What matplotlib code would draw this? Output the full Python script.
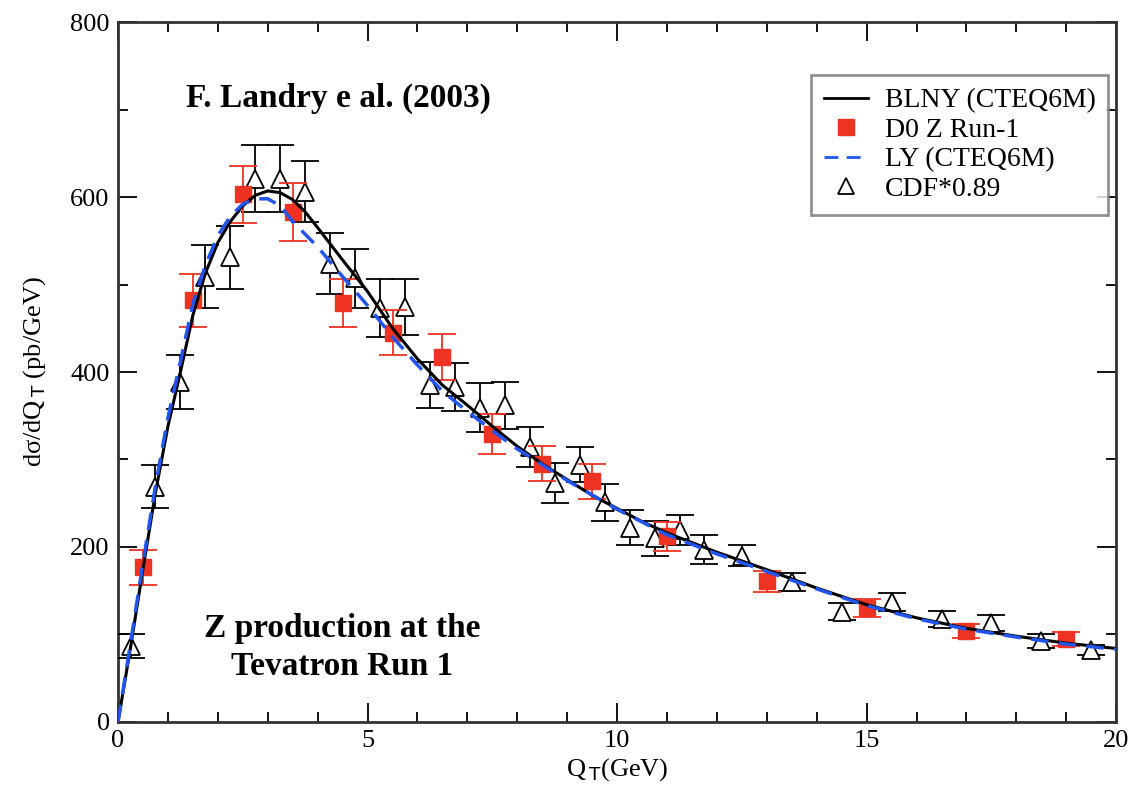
import numpy as np
import matplotlib
matplotlib.use("Agg")
import matplotlib.pyplot as plt
from matplotlib.ticker import MultipleLocator

# BLNY (CTEQ6M) curve
blny_x = [0, 0.25, 0.5, 0.75, 1.0, 1.25, 1.5, 1.75, 2.0, 2.25, 2.5, 2.75, 3.0, 3.25, 3.5, 3.75,
          4.0, 4.5, 5.0, 5.5, 6.0, 6.5, 7.0, 7.5, 8.0, 8.5, 9.0, 9.5, 10, 10.5, 11, 12, 13, 14,
          15, 16, 17, 18, 19, 20]
blny_y = [0, 85, 175, 262, 338, 400, 465, 513, 548, 572, 590, 602, 607, 605, 597, 583,
          565, 528, 492, 450, 415, 385, 362, 338, 315, 295, 277, 259, 244, 229, 216, 194, 174, 153,
          134, 119, 107, 98, 90, 84]

# LY (CTEQ6M) curve
ly_x = [0, 0.25, 0.5, 0.75, 1.0, 1.25, 1.5, 1.75, 2.0, 2.25, 2.5, 2.75, 3.0, 3.25, 3.5, 4.0,
        4.5, 5.0, 5.5, 6.0, 6.5, 7.0, 7.5, 8.0, 8.5, 9.0, 10, 11, 12, 13, 14, 15, 16, 17, 18,
        19, 20]
ly_y = [0, 90, 182, 270, 348, 412, 478, 522, 556, 578, 592, 598, 598, 590, 572, 543,
        509, 476, 440, 408, 378, 355, 333, 312, 294, 276, 243, 214, 192, 172, 152, 133, 118, 106, 97,
        89, 83]

# D0 Z Run-1
d0_x = [0.5, 1.5, 2.5, 3.5, 4.5, 5.5, 6.5, 7.5, 8.5, 9.5, 11, 13, 15, 17, 19]
d0_y = [177, 482, 603, 583, 479, 445, 417, 329, 295, 275, 212, 161, 130, 104, 95]
d0_err = [20, 30, 33, 33, 27, 26, 26, 23, 20, 20, 17, 12, 10, 8, 8]

# CDF * 0.89
cdf_x = [0.25, 0.75, 1.25, 1.75, 2.25, 2.75, 3.25, 3.75, 4.25, 4.75, 5.25, 5.75, 6.25, 6.75,
         7.25, 7.75, 8.25, 8.75, 9.25, 9.75, 10.25, 10.75, 11.25, 11.75, 12.5, 13.5, 14.5,
         15.5, 16.5, 17.5, 18.5, 19.5]
cdf_y = [87, 269, 389, 509, 531, 621, 621, 606, 524, 507, 473, 474, 385, 383,
         359, 362, 314, 273, 294, 251, 222, 210, 219, 197, 190, 160, 126,
         137, 118, 113, 92, 82]
cdf_err = [14, 25, 31, 36, 36, 38, 38, 35, 35, 34, 33, 32, 26, 27,
           28, 27, 23, 23, 20, 21, 20, 20, 17, 17, 12, 10, 10,
           10, 9, 9, 8, 6]

red = '#ee3322'
blue = '#2255ee'
serif = 'Liberation Serif'

fig = plt.figure(figsize=(11.46, 7.89), dpi=100)
ax = fig.add_axes([0.103, 0.085, 0.871, 0.887])

ax.errorbar(cdf_x, cdf_y, yerr=cdf_err, fmt='^', mfc='white', mec='black', ms=13, mew=1.3,
            ecolor='black', elinewidth=1.3, capsize=10, capthick=1.3, zorder=3)
ax.errorbar(d0_x, d0_y, yerr=d0_err, fmt='s', color=red, ms=11, ecolor=red,
            elinewidth=1.3, capsize=10, capthick=1.3, zorder=4)
ax.plot(blny_x, blny_y, color='black', lw=2.2, zorder=5)
ax.plot(ly_x, ly_y, color=blue, lw=2.5, ls=(0, (5, 3)), zorder=6)

# legend handles
h1, = ax.plot([], [], color='black', lw=2)
h2, = ax.plot([], [], 's', color=red, ms=11)
h3, = ax.plot([], [], color=blue, lw=2, ls=(0, (5, 3)))
h4, = ax.plot([], [], '^', mfc='white', mec='black', ms=12, mew=1.3)
leg = ax.legend([h1, h2, h3, h4], ['BLNY (CTEQ6M)', 'D0 Z Run-1', 'LY (CTEQ6M)', 'CDF*0.89'],
                loc='upper right', bbox_to_anchor=(0.992, 0.924), borderaxespad=0,
                fancybox=False, prop={'family': serif, 'size': 20}, handlelength=1.6,
                labelspacing=0.15, borderpad=0.45, handletextpad=0.6)
leg.get_frame().set_edgecolor('#777777')
leg.get_frame().set_linewidth(2)

ax.set_xlim(0, 20)
ax.set_ylim(0, 800)
ax.xaxis.set_major_locator(MultipleLocator(5))
ax.xaxis.set_minor_locator(MultipleLocator(1))
ax.yaxis.set_major_locator(MultipleLocator(200))
ax.yaxis.set_minor_locator(MultipleLocator(100))
ax.tick_params(which='both', direction='in', top=True, right=True, width=1.3)
ax.tick_params(which='major', length=14, labelsize=19, pad=6)
ax.tick_params(which='minor', length=7)
for lab in ax.get_xticklabels() + ax.get_yticklabels():
    lab.set_fontfamily(serif)
for s in ax.spines.values():
    s.set_linewidth(2)
    s.set_color('#333333')

ax.set_xlabel(r'Q$_{\,\rm T}$(GeV)', fontsize=19, family=serif, labelpad=3)
ax.set_ylabel('dσ/dQ$_{\\,\\rm T}$ (pb/GeV)', fontsize=19, family=serif, labelpad=16)

ax.text(4.41, 703, 'F. Landry e al. (2003)', fontsize=24, fontweight='bold', family=serif,
        ha='center', va='baseline')
ax.text(4.50, 97, 'Z production at the', fontsize=24, fontweight='bold',
        family=serif, ha='center', va='baseline')
ax.text(4.49, 54, 'Tevatron Run 1', fontsize=24, fontweight='bold',
        family=serif, ha='center', va='baseline')

fig.savefig('out.png', dpi=100)
